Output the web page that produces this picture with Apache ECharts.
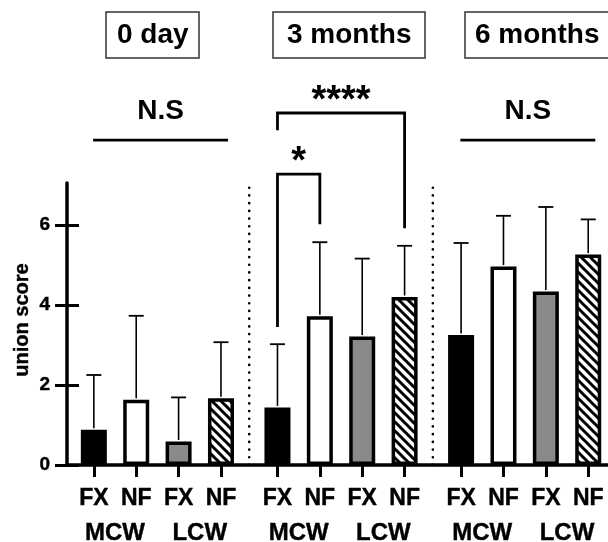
<!DOCTYPE html>
<html><head><meta charset="utf-8">
<script src="https://cdn.jsdelivr.net/npm/echarts@6/dist/echarts.min.js"></script>
<style>html,body{margin:0;padding:0;background:#fff}#c{width:608px;height:542px}</style>
</head><body><div id="c"></div>
<script>
// ---- data ----
const timepoints = ['0 day', '3 months', '6 months'];
const fixLabels = ['FX', 'NF', 'FX', 'NF'];
const wallLabels = ['MCW', 'LCW'];
const meanFxMcw = [0.88, 1.44, 3.25];
const meanNfMcw = [1.63, 3.72, 4.96];
const meanFxLcw = [0.59, 3.21, 4.34];
const meanNfLcw = [1.67, 4.20, 5.26];
const sdFxMcw = [1.37, 1.58, 2.30];
const sdNfMcw = [2.10, 1.85, 1.27];
const sdFxLcw = [1.10, 1.95, 2.11];
const sdNfLcw = [1.40, 1.28, 0.88];
const yTicks = [0, 2, 4, 6];
// significance annotations
const nsTimes = [0, 2];
const nsLineY = 8.12, nsTextY = 8.85;
// brackets in 3-month group: [fromBar, toBar, topY, leftLegBottom, rightLegBottom, label, labelY]
const brackets = [
  [0, 1, 7.27, 3.45, 6.02, '*', 7.55],
  [0, 3, 8.80, 8.37, 5.92, '****', 9.08]
];

// ---- layout helpers ----
const GROUP_STEP = 13, BAR_STEP = 3;
const pos = (t, k) => t * GROUP_STEP + k * BAR_STEP;
const FONT = 'Liberation Sans, Arial, sans-serif';

const hatch = document.createElement('canvas');
hatch.width = 9; hatch.height = 9;
(function () {
  const ctx = hatch.getContext('2d');
  ctx.fillStyle = '#fff'; ctx.fillRect(0, 0, 9, 9);
  ctx.strokeStyle = '#000'; ctx.lineWidth = 3;
  [-9, 0, 9].forEach(c => { ctx.beginPath(); ctx.moveTo(-3, -3 + c); ctx.lineTo(12, 12 + c); ctx.stroke(); });
})();

const means = [meanFxMcw, meanNfMcw, meanFxLcw, meanNfLcw];
const sds = [sdFxMcw, sdNfMcw, sdFxLcw, sdNfLcw];
const fills = ['#000', '#fff', '#8a8a8a', { image: hatch, repeat: 'repeat' }];

const barData = [], errData = [];
timepoints.forEach((tp, t) => {
  means.forEach((m, k) => {
    barData.push({ value: [pos(t, k), m[t]], itemStyle: { color: fills[k], borderColor: '#000', borderWidth: 3.5 } });
    errData.push([pos(t, k), m[t], m[t] + sds[k][t]]);
  });
});

const tickPos = [], pairPos = [];
timepoints.forEach((tp, t) => {
  for (let k = 0; k < 4; k++) tickPos.push(pos(t, k));
  pairPos.push((pos(t, 0) + pos(t, 1)) / 2, (pos(t, 2) + pos(t, 3)) / 2);
});
const labelAt = v => { const i = tickPos.indexOf(v); return i < 0 ? '' : fixLabels[i % 4]; };
const wallAt = v => { const i = pairPos.indexOf(v); return i < 0 ? '' : wallLabels[i % 2]; };

// annotation items
const ann = [];
for (let t = 0; t < timepoints.length - 1; t++) ann.push({ kind: 'sep', x: (pos(t, 3) + pos(t + 1, 0)) / 2 });
nsTimes.forEach(t => ann.push({ kind: 'ns', x1: pos(t, 0) - 0.05, x2: pos(t, 3) + 0.5 }));
brackets.forEach(b => ann.push({ kind: 'br', b: b }));

const chart = echarts.init(document.getElementById('c'));
const titleBox = (text, left, padH) => ({
  text, left, top: 12, padding: [8, padH], borderWidth: 1.5, borderColor: '#333',
  textStyle: { fontSize: 28, fontWeight: 700, color: '#000', fontFamily: FONT, lineHeight: 30 }
});
const boldText = (size) => ({ color: '#000', fontSize: size, fontWeight: 700, fontFamily: FONT,
  textBorderColor: '#000', textBorderWidth: 0.4 });
chart.setOption({
  animation: false,
  backgroundColor: '#fff',
  title: [titleBox(timepoints[0], 106, 11), titleBox(timepoints[1], 273, 14), titleBox(timepoints[2], 465, 10)],
  grid: { left: 67, right: 0, top: 183, bottom: 77, containLabel: false, outerBoundsMode: 'none' },
  xAxis: [{
    type: 'value', min: -1.9, max: 36.4,
    axisLine: { show: true, onZero: false, lineStyle: { color: '#000', width: 3.5 } },
    axisTick: { show: true, customValues: tickPos, length: 12, lineStyle: { color: '#000', width: 3 } },
    axisLabel: Object.assign({ customValues: tickPos, formatter: labelAt, margin: 22, lineHeight: 24 }, boldText(23)),
    splitLine: { show: false }
  }, {
    type: 'value', min: -1.9, max: 36.4, position: 'bottom', offset: 0,
    axisLine: { show: false, onZero: false }, axisTick: { show: false }, splitLine: { show: false },
    axisLabel: Object.assign({ customValues: pairPos, formatter: wallAt, margin: 55, lineHeight: 26 }, boldText(24))
  }],
  yAxis: [{
    type: 'value', min: 0, max: 7.05, position: 'left',
    name: 'union score', nameLocation: 'middle', nameRotate: 90, nameGap: 35, nameMoveOverlap: false,
    nameTextStyle: Object.assign({ padding: [0, 0, 0, 8] }, boldText(20)),
    axisLine: { show: true, onZero: false, lineStyle: { color: '#000', width: 3.5 } },
    axisTick: { show: true, customValues: yTicks, length: 12, lineStyle: { color: '#000', width: 3 } },
    axisLabel: Object.assign({ customValues: yTicks, margin: 17 }, boldText(19)),
    splitLine: { show: false }
  }, {
    type: 'value', min: 0, max: 7.05, position: 'left', offset: 0,
    axisLine: { show: true, onZero: false, lineStyle: { color: 'rgba(0,0,0,0)', width: 0 } },
    axisLabel: { show: false }, splitLine: { show: false },
    axisTick: { show: true, inside: true, customValues: yTicks, length: 12, lineStyle: { color: '#000', width: 3 } }
  }],
  series: [{
    type: 'custom', name: 'annotations', xAxisIndex: 0, yAxisIndex: 0, clip: false, z: 1,
    data: ann.map(() => [0, 0]),
    renderItem: function (params, api) {
      const a = ann[params.dataIndex];
      if (a.kind === 'sep') {
        const p0 = api.coord([a.x, 0]), p1 = api.coord([a.x, 7.0]);
        return { type: 'line', shape: { x1: p0[0], y1: p0[1], x2: p1[0], y2: p1[1] },
          style: { stroke: '#000', lineWidth: 2.6, lineDash: [0.1, 7.6], lineCap: 'round' } };
      }
      if (a.kind === 'ns') {
        const p0 = api.coord([a.x1, nsLineY]), p1 = api.coord([a.x2, nsLineY]);
        const pt = api.coord([(a.x1 + a.x2) / 2, nsTextY]);
        return { type: 'group', children: [
          { type: 'line', shape: { x1: p0[0], y1: p0[1], x2: p1[0], y2: p1[1] }, style: { stroke: '#000', lineWidth: 2.8 } },
          { type: 'text', style: { text: 'N.S', x: pt[0], y: pt[1], fill: '#000', fontSize: 28, fontWeight: 700, fontFamily: FONT, align: 'center', verticalAlign: 'middle' } }
        ] };
      }
      const b = a.b, t = 1;
      const xl = pos(t, b[0]), xr = pos(t, b[1]);
      const pts = [api.coord([xl, b[3]]), api.coord([xl, b[2]]), api.coord([xr, b[2]]), api.coord([xr, b[4]])];
      const pl = api.coord([(xl + xr) / 2, b[6]]);
      return { type: 'group', children: [
        { type: 'polyline', shape: { points: pts }, style: { stroke: '#000', fill: null, lineWidth: 2.8 } },
        { type: 'text', style: { text: b[5], x: pl[0], y: pl[1], fill: '#000', fontSize: 38, fontWeight: 700, fontFamily: FONT, align: 'center', verticalAlign: 'middle' } }
      ] };
    }
  }, {
    type: 'bar', name: 'union score', xAxisIndex: 0, yAxisIndex: 0, barWidth: 26, z: 2,
    itemStyle: { borderColor: '#000', borderWidth: 3.5 },
    data: barData
  }, {
    type: 'custom', name: 'SD', xAxisIndex: 0, yAxisIndex: 0, z: 3, clip: false,
    data: errData,
    renderItem: function (params, api) {
      const p0 = api.coord([api.value(0), api.value(1)]);
      const p1 = api.coord([api.value(0), api.value(2)]);
      return { type: 'group', children: [
        { type: 'line', shape: { x1: p0[0], y1: p0[1] - 1.5, x2: p1[0], y2: p1[1] }, style: { stroke: '#000', lineWidth: 1.6 } },
        { type: 'line', shape: { x1: p1[0] - 7.5, y1: p1[1], x2: p1[0] + 7.5, y2: p1[1] }, style: { stroke: '#000', lineWidth: 1.8 } }
      ] };
    }
  }]
});
</script></body></html>
